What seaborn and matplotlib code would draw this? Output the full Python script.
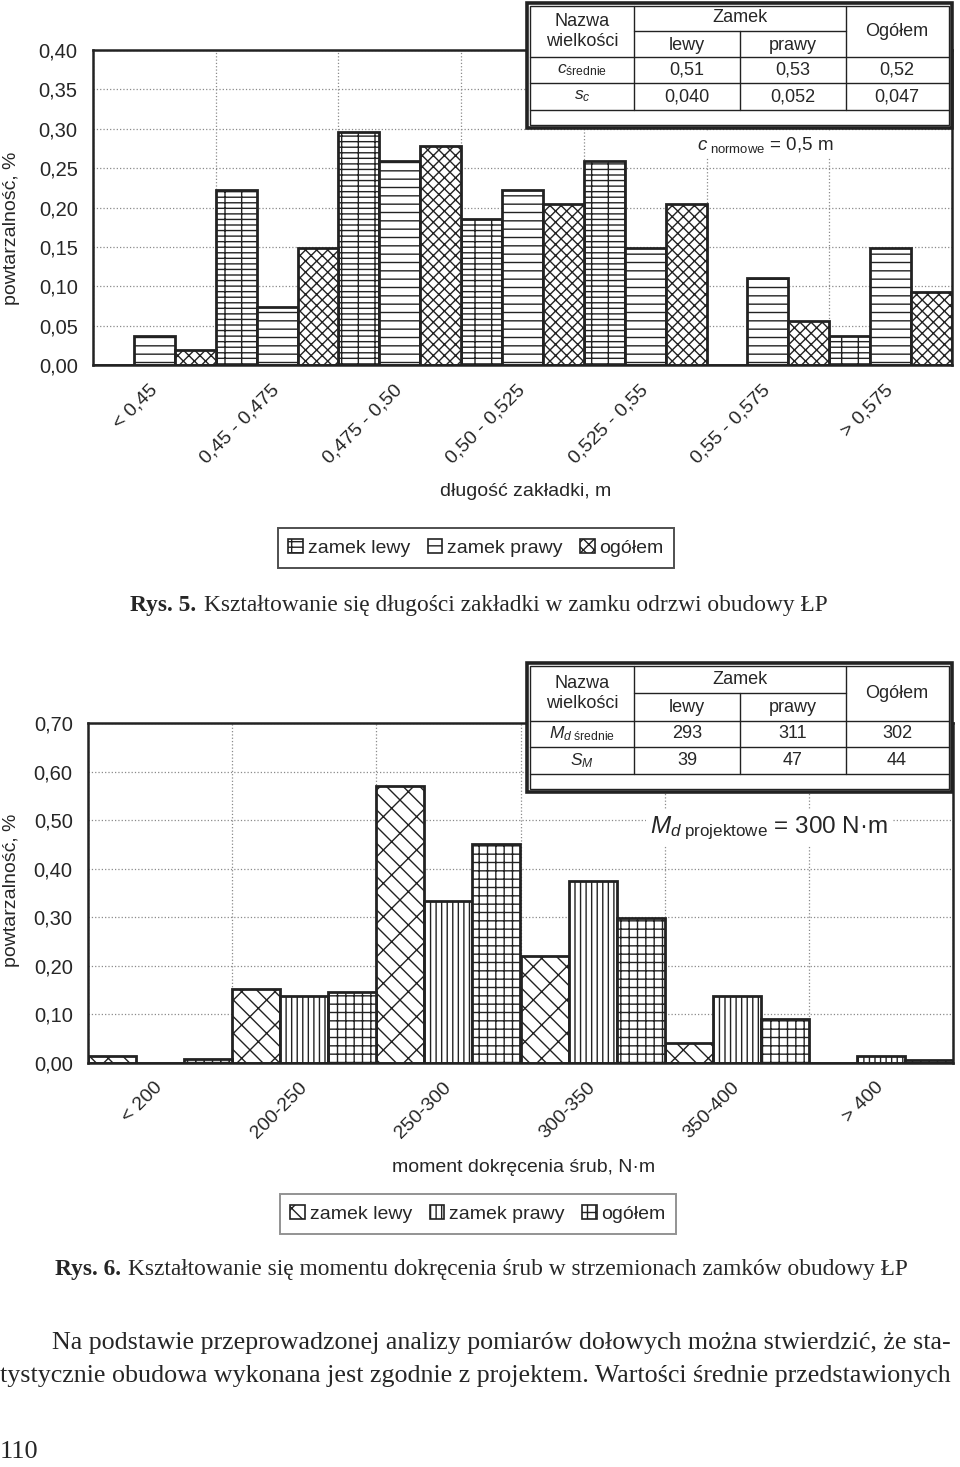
import numpy as np
import pandas as pd
import matplotlib
matplotlib.use("Agg")
import matplotlib.pyplot as plt
from matplotlib.patches import Patch, Rectangle
import seaborn as sns

sns.set_style("white")
plt.rcParams["font.family"] = ["Liberation Sans", "DejaVu Sans"]
plt.rcParams["mathtext.fontset"] = "custom"
plt.rcParams["mathtext.rm"] = "Liberation Sans"
plt.rcParams["mathtext.it"] = "Liberation Sans:italic"
plt.rcParams["hatch.linewidth"] = 1.0

W, H = 960, 1467
INK = "#222222"

# --------------------------------------------------------------------------
# data
# --------------------------------------------------------------------------
series = ["zamek lewy", "zamek prawy", "ogółem"]

lap_cats = ["< 0,45", "0,45 - 0,475", "0,475 - 0,50", "0,50 - 0,525",
            "0,525 - 0,55", "0,55 - 0,575", "> 0,575"]
lap_lewy = [0.0, 0.222, 0.296, 0.185, 0.259, 0.0, 0.037]
lap_prawy = [0.037, 0.074, 0.259, 0.222, 0.148, 0.111, 0.148]
lap_ogolem = [0.019, 0.148, 0.278, 0.204, 0.204, 0.056, 0.093]
lap_yticks = [0.0, 0.05, 0.10, 0.15, 0.20, 0.25, 0.30, 0.35, 0.40]
lap_yticklabels = ["0,00", "0,05", "0,10", "0,15", "0,20", "0,25", "0,30", "0,35", "0,40"]

torque_cats = ["< 200", "200-250", "250-300", "300-350", "350-400", "> 400"]
torque_lewy = [0.015, 0.153, 0.570, 0.221, 0.041, 0.0]
torque_prawy = [0.0, 0.138, 0.333, 0.375, 0.138, 0.015]
torque_ogolem = [0.008, 0.146, 0.451, 0.298, 0.090, 0.007]
torque_yticks = [0.0, 0.10, 0.20, 0.30, 0.40, 0.50, 0.60, 0.70]
torque_yticklabels = ["0,00", "0,10", "0,20", "0,30", "0,40", "0,50", "0,60", "0,70"]

lap_table_rows = [r"$c_{\mathrm{średnie}}$", r"$s_c$"]
lap_table_vals = [["0,51", "0,53", "0,52"], ["0,040", "0,052", "0,047"]]
torque_table_rows = [r"$M_{d\ \mathrm{średnie}}$", r"$S_M$"]
torque_table_vals = [["293", "311", "302"], ["39", "47", "44"]]

lap_hatches = ["--+", "--", "xxx"]
torque_hatches = ["\\\\/", "|||", "++"]


def frame(cats, lewy, prawy, ogolem):
    return pd.DataFrame({
        "kat": cats * 3,
        "seria": [s for s in series for _ in cats],
        "val": list(lewy) + list(prawy) + list(ogolem),
    })


def axes_rect(x0, y0, x1, y1):
    # pixel box -> figure fraction
    return [x0 / W, 1 - y1 / H, (x1 - x0) / W, (y1 - y0) / H]


def draw_chart(ax, df, cats, hatches, yticks, yticklabels):
    sns.barplot(data=df, x="kat", y="val", hue="seria", order=cats, hue_order=series,
                width=1.0, gap=0, errorbar=None, legend=False, ax=ax,
                edgecolor=INK, linewidth=2)
    for cont, h in zip(ax.containers, hatches):
        for bar in cont:
            bar.set_facecolor("white")
            bar.set_hatch(h)
            bar.set_edgecolor(INK)
    n = len(cats)
    ax.set_xlim(-0.5, n - 0.5)
    ax.set_ylim(yticks[0], yticks[-1])
    ax.set_yticks(yticks)
    ax.set_yticklabels(yticklabels, fontsize=14.5)
    ax.set_xticks(range(n))
    ax.set_xticklabels(cats, rotation=45, ha="right", va="center",
                       rotation_mode="anchor", fontsize=14)
    ax.set_xticks(np.arange(-0.5, n, 1), minor=True)
    ax.tick_params(axis="x", which="major", length=0, pad=16)
    ax.tick_params(axis="x", which="minor", length=6, width=1.2, direction="out", color=INK)
    ax.tick_params(axis="y", length=6, width=1.2, direction="out", color=INK, pad=5)
    ax.set_axisbelow(True)
    ax.grid(axis="y", which="major", ls=":", color="#8a8a8a", lw=0.9)
    ax.grid(axis="x", which="minor", ls=":", color="#8a8a8a", lw=0.9)
    for sp in ax.spines.values():
        sp.set_visible(True)
        sp.set_linewidth(1.8)
        sp.set_color(INK)
    ax.set_xlabel("")
    ax.set_ylabel("")


def draw_table(ov, top, rows_y, row_labels, values):
    x0, x1 = 527, 952
    bottom = rows_y[-1] + 4
    ov.add_patch(Rectangle((x0, top), x1 - x0, bottom - top, fc="white", ec=INK, lw=2.6, zorder=5))
    ov.add_patch(Rectangle((x0 + 3, top + 3), x1 - x0 - 6, bottom - top - 6,
                           fc="none", ec=INK, lw=1.0, zorder=6))
    y_zamek, y_head, y_r1, y_r2, _ = rows_y
    for c in (634, 846):
        ov.plot([c, c], [top + 3, y_r2], color=INK, lw=1.0, zorder=6)
    ov.plot([740, 740], [y_zamek, y_r2], color=INK, lw=1.0, zorder=6)
    ov.plot([634, 846], [y_zamek, y_zamek], color=INK, lw=1.0, zorder=6)
    for y in (y_head, y_r1, y_r2):
        ov.plot([x0 + 3, x1 - 3], [y, y], color=INK, lw=1.0, zorder=6)
    centers = [582, 687, 793, 897]
    kw = dict(ha="center", va="center", fontsize=13, zorder=7)
    ov.text(centers[0], (top + y_head) / 2 - 9, "Nazwa", **kw)
    ov.text(centers[0], (top + y_head) / 2 + 11, "wielkości", **kw)
    ov.text(740, (top + y_zamek) / 2 + 1, "Zamek", **kw)
    ov.text(centers[1], (y_zamek + y_head) / 2 + 1, "lewy", **kw)
    ov.text(centers[2], (y_zamek + y_head) / 2 + 1, "prawy", **kw)
    ov.text(centers[3], (top + y_head) / 2 + 1, "Ogółem", **kw)
    for lab, vals, ya, yb in zip(row_labels, values, (y_head, y_r1), (y_r1, y_r2)):
        ym = (ya + yb) / 2
        ov.text(centers[0], ym, lab, ha="center", va="center", fontsize=12.5, zorder=7)
        for cx, v in zip(centers[1:], vals):
            ov.text(cx, ym, v, **kw)


fig = plt.figure(figsize=(W / 100, H / 100), dpi=100)

# --------------------------------------------------------------------------
# Rys. 5
# --------------------------------------------------------------------------
ax1 = fig.add_axes(axes_rect(93, 50, 952, 365))
draw_chart(ax1, frame(lap_cats, lap_lewy, lap_prawy, lap_ogolem), lap_cats,
           lap_hatches, lap_yticks, lap_yticklabels)

# --------------------------------------------------------------------------
# Rys. 6
# --------------------------------------------------------------------------
ax2 = fig.add_axes(axes_rect(88, 723, 953, 1063))
draw_chart(ax2, frame(torque_cats, torque_lewy, torque_prawy, torque_ogolem), torque_cats,
           torque_hatches, torque_yticks, torque_yticklabels)

# overlay in pixel coordinates for tables and page text
ov = fig.add_axes([0, 0, 1, 1], zorder=10)
ov.set_xlim(0, W)
ov.set_ylim(H, 0)
ov.axis("off")

draw_table(ov, 3, [31, 57, 83, 110, 124], lap_table_rows, lap_table_vals)
draw_table(ov, 663, [693, 721, 747, 774, 788], torque_table_rows, torque_table_vals)

ov.text(697, 145, r"$c_{\ \mathrm{normowe}}$ = 0,5 m", ha="left", va="center", fontsize=13.5,
        bbox=dict(fc="white", ec="none", pad=2))
ov.text(650, 828, r"$M_{d\ \mathrm{projektowe}}$ = 300 N·m", ha="left", va="center",
        fontsize=17.5, bbox=dict(fc="white", ec="none", pad=3))

# axis titles
ov.text(12, 228, "powtarzalność, %", rotation=90, ha="center", va="center", fontsize=14)
ov.text(12, 890, "powtarzalność, %", rotation=90, ha="center", va="center", fontsize=14)
ov.text(526, 492, "długość zakładki, m", ha="center", va="center", fontsize=14)
ov.text(524, 1167, "moment dokręcenia śrub, N·m", ha="center", va="center", fontsize=14)

# legends
for hatches, cx, cy, ec in ((lap_hatches, 476, 548, INK), (torque_hatches, 478, 1214, "#777777")):
    handles = [Patch(facecolor="white", edgecolor=INK, hatch=h, lw=1.2, label=s)
               for s, h in zip(series, hatches)]
    leg = fig.legend(handles=handles, loc="center", bbox_to_anchor=(cx / W, 1 - cy / H),
                     ncol=3, fontsize=14, frameon=True, fancybox=False, shadow=False,
                     handlelength=0.75, handleheight=0.75, handletextpad=0.25,
                     columnspacing=0.9, borderpad=0.55)
    leg.get_frame().set_edgecolor(ec)
    leg.get_frame().set_linewidth(1.4)

# captions and body text
serif = ["Liberation Serif", "DejaVu Serif"]
ov.text(130, 605, "Rys. 5.", family=serif, weight="bold", fontsize=16.8, va="center")
ov.text(204, 605, "Kształtowanie się długości zakładki w zamku odrzwi obudowy ŁP",
        family=serif, fontsize=16.8, va="center")
ov.text(55, 1270, "Rys. 6.", family=serif, weight="bold", fontsize=16.8, va="center")
ov.text(128, 1270, "Kształtowanie się momentu dokręcenia śrub w strzemionach zamków obudowy ŁP",
        family=serif, fontsize=16.8, va="center")
ov.text(52, 1343, "Na podstawie przeprowadzonej analizy pomiarów dołowych można stwierdzić, że sta-",
        family=serif, fontsize=18.7, va="center")
ov.text(0, 1376, "tystycznie obudowa wykonana jest zgodnie z projektem. Wartości średnie przedstawionych",
        family=serif, fontsize=18.7, va="center")
ov.text(0, 1452, "110", family=serif, fontsize=19, va="center")

fig.savefig("out.png", dpi=100)
